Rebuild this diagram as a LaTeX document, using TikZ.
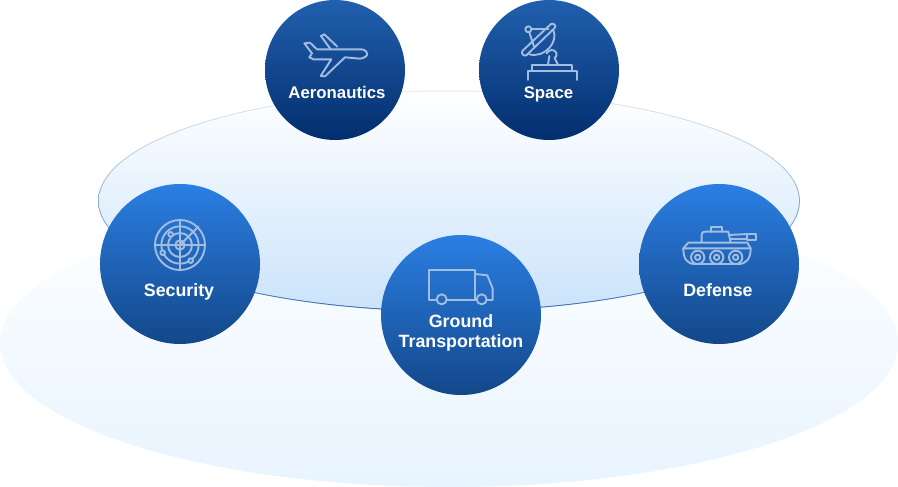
\documentclass[tikz,border=0pt]{standalone}
\usepackage{fontspec}
\setmainfont{Liberation Sans}
\definecolor{icon}{HTML}{A3BDE0}
\tikzset{
  x=1pt,y=-1pt,
  ball/.style={circle,inner sep=0pt,outer sep=0pt,minimum size=#1},
  lowball/.style={ball=160pt,top color=ballA,bottom color=ballB},
  highball/.style={ball=140pt,top color=ballC,bottom color=ballD},
  lbl/.style={text=white,font=\fontsize{17.8}{20}\selectfont\bfseries,align=center,inner sep=0pt,anchor=base},
  lblhigh/.style={lbl,font=\fontsize{16.8}{20}\selectfont\bfseries},
  ico/.style={draw=icon,line width=1.9pt,line join=round,line cap=round},
}
\definecolor{ballA}{HTML}{2B7FE3}
\definecolor{ballB}{HTML}{134789}
\definecolor{ballC}{HTML}{2160AE}
\definecolor{ballD}{HTML}{032E6E}
\definecolor{floorA}{HTML}{FFFFFF}
\definecolor{floorB}{HTML}{E8F4FF}
\definecolor{discA}{HTML}{FFFFFF}
\definecolor{discB}{HTML}{CBE3FB}
\definecolor{rimA}{HTML}{E4ECF2}
\definecolor{rimB}{HTML}{2F6CAC}
\begin{document}
\begin{tikzpicture}
\useasboundingbox (0,0) rectangle (898,487);
% floor and disc
\shade[top color=floorA,bottom color=floorB] (449,343) ellipse [x radius=449,y radius=144];
\shade[top color=rimA,bottom color=rimB] (449,201) ellipse [x radius=351,y radius=110.5];
\shade[top color=discA,bottom color=discB] (449,201) ellipse [x radius=350,y radius=109.5];
% circles
\node[highball] (aero) at (335,70) {};
\node[highball] (space) at (549,70) {};
\node[lowball] (sec) at (180,264) {};
\node[lowball] (ground) at (461,315) {};
\node[lowball] (def) at (719,264) {};
% labels
\node[lblhigh] (aerol) at (337,98.500) {Aeronautics};
\node[lblhigh] (spacel) at (548.500,99) {Space};
\node[lbl] (secl) at (179,296.500) {Security};
\node[lbl,anchor=center] (groundl) at (461,332.500) {Ground\\[0pt]Transportation};
\node[lbl] (defl) at (718,296.500) {Defense};
% plane
\begin{scope}[shift={(265,0)},x=0.3333pt,y=-0.3333pt]
\draw[ico] (118,130) -- (135,128) -- (156,148) -- (290,148) .. controls (300,150) and (307,155) .. (307,161) .. controls (307,168) and (298,175) .. (285,176) -- (240,172) -- (180,229) -- (167,228) -- (199,178) -- (145,178) -- (133,172) -- (141,160) -- cycle;
\draw[ico] (197,148) -- (168,108) -- (178,103) -- (217,140);
\end{scope}
% dish
\begin{scope}[shift={(480,0)},x=0.3333pt,y=-0.3333pt]
\draw[ico] (145,88) circle [radius=9];
\draw[ico] (127,153) -- (213,72) .. controls (222,68) and (230,78) .. (224,84) -- (139,166) .. controls (130,170) and (123,160) .. (127,153);
\draw[ico] (154,88) -- (205,88);
\draw[ico] (148,97) -- (162,139);
\draw[ico] (220,90) .. controls (236,125) and (195,175) .. (148,163);
\draw[ico] (200,160) .. controls (205,150) and (222,145) .. (229,158) .. controls (232,165) and (228,172) .. (224,174);
\draw[ico] (208,168) -- (204,194);
\draw[ico] (224,174) -- (234,194);
\draw[ico] (155,211) -- (155,195) -- (275,195) -- (275,211);
\draw[ico] (143,240) -- (143,212) -- (290,212) -- (290,240);
\end{scope}
% radar
\begin{scope}[shift={(130,200)},x=0.3333pt,y=-0.3333pt]
\foreach \r in {75,56,36,14}{\draw[ico] (150,135) circle [radius=\r];}
\draw[ico] (150,60) -- (150,210);
\draw[ico] (75,135) -- (225,135);
\draw[ico] (150,135) -- (205,80);
\foreach \p in {(122,103),(98,158),(182,182)}{\draw[ico,fill=ballA!75!ballB] \p circle [radius=7];}
\end{scope}
% truck
\begin{scope}[shift={(400,250)},x=0.3333pt,y=-0.3333pt]
\draw[ico] (110,150) -- (88,150) -- (88,60) -- (225,60) -- (225,150);
\draw[ico] (140,150) -- (230,150);
\draw[ico] (225,72) -- (262,76) -- (278,115) -- (278,150) -- (260,150);
\draw[ico] (125,148) circle [radius=15];
\draw[ico] (245,148) circle [radius=15];
\end{scope}
% tank
\begin{scope}[shift={(660,210)},x=0.3333pt,y=-0.3333pt]
\draw[ico] (125,97) -- (125,75) .. controls (125,68) and (128,65) .. (135,65) -- (205,65) -- (212,97);
\draw[ico] (152,65) -- (152,50) -- (186,50) -- (186,65);
\draw[ico] (208,75) -- (262,72);
\draw[ico] (210,88) -- (262,88);
\draw[ico] (262,71) rectangle (287,90);
\draw[ico] (70,115) -- (85,98) -- (262,98) -- (272,115) -- cycle;
\draw[ico] (70,115) .. controls (70,145) and (80,162) .. (105,162) -- (235,162) .. controls (260,162) and (272,145) .. (272,115);
\foreach \c in {113,170,227}{
  \draw[ico] (\c,142) circle [radius=20];
  \draw[ico] (\c,142) circle [radius=8];
}
\end{scope}
\end{tikzpicture}
\end{document}
